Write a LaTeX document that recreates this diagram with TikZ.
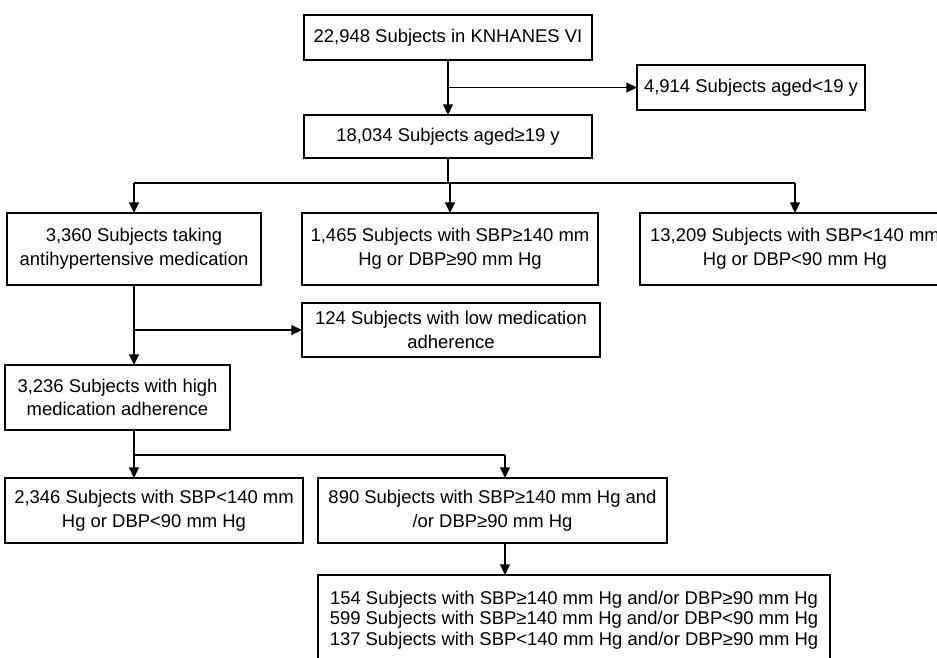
\documentclass[tikz,border=0pt]{standalone}
\usepackage{fontspec}
\setmainfont{Liberation Sans}
\usetikzlibrary{arrows.meta}

\begin{document}
\begin{tikzpicture}[x=0.02cm,y=-0.02cm,
  stage/.style={draw,line width=0.8pt,align=center,inner sep=2pt,outer sep=0pt,font=\fontsize{10.5}{13.5}\selectfont},
  link/.style={line width=0.8pt},
  flow/.style={link,-{Triangle[length=6pt,width=5.5pt]}}]
        \useasboundingbox (0,0) rectangle (937,657);
        \node[stage,minimum width=5.76cm,minimum height=0.9cm] (n0) at (448,37.5) {22,948 Subjects in KNHANES VI};
        \node[stage,minimum width=4.56cm,minimum height=0.9cm] (excl1) at (751,87.5) {4,914 Subjects aged<19 y};
        \node[stage,minimum width=5.76cm,minimum height=0.86cm] (n1) at (448,136.5) {18,034 Subjects aged≥19 y};
        \node[stage,minimum width=5.08cm,minimum height=1.44cm] (hyp) at (134,249) {3,360 Subjects taking\\antihypertensive medication};
        \node[stage,minimum width=5.92cm,minimum height=1.44cm] (high) at (450,249) {1,465 Subjects with SBP≥140 mm\\Hg or DBP≥90 mm Hg};
        \node[stage,minimum width=6.2cm,minimum height=1.44cm] (norm) at (795,249) {13,209 Subjects with SBP<140 mm\\Hg or DBP<90 mm Hg};
        \node[stage,minimum width=5.96cm,minimum height=1.08cm] (low) at (451,330) {124 Subjects with low medication\\adherence};
        \node[stage,minimum width=4.5cm,minimum height=1.3cm] (adh) at (117.5,397.5) {3,236 Subjects with high\\medication adherence};
        \node[stage,minimum width=5.96cm,minimum height=1.3cm] (ctrl) at (154,510.5) {2,346 Subjects with SBP<140 mm\\Hg or DBP<90 mm Hg};
        \node[stage,minimum width=6.98cm,minimum height=1.3cm] (unc) at (492.5,510.5) {890 Subjects with SBP≥140 mm Hg and\\/or DBP≥90 mm Hg};
        \node[stage,minimum width=10.24cm,minimum height=1.8cm,font=\fontsize{10.5}{11.8}\selectfont] (sub) at (574,620) {154 Subjects with SBP≥140 mm Hg and/or DBP≥90 mm Hg\\599 Subjects with SBP≥140 mm Hg and/or DBP<90 mm Hg\\137 Subjects with SBP<140 mm Hg and/or DBP≥90 mm Hg};
        \coordinate (j1) at (448,183);
        \coordinate (j3) at (505,455);
        \draw[flow] (n0) -- (n1);
        \draw[flow] (n0 |- excl1) -- (excl1);
        \draw[link] (n1) -- (j1);
        \draw[link] (hyp |- j1) -- (norm |- j1);
        \draw[flow] (hyp |- j1) -- (hyp);
        \draw[flow] (high |- j1) -- (high);
        \draw[flow] (norm |- j1) -- (norm);
        \draw[flow] (hyp) -- (hyp |- adh.north);
        \draw[flow] (hyp |- low) -- (low);
        \draw[link] (hyp |- adh.south) -- (hyp |- j3) -- (j3);
        \draw[flow] (hyp |- j3) -- (hyp |- ctrl.north);
        \draw[flow] (j3) -- (j3 |- unc.north);
        \draw[flow] (j3 |- unc.south) -- (j3 |- sub.north);
    \end{tikzpicture}
\end{document}
